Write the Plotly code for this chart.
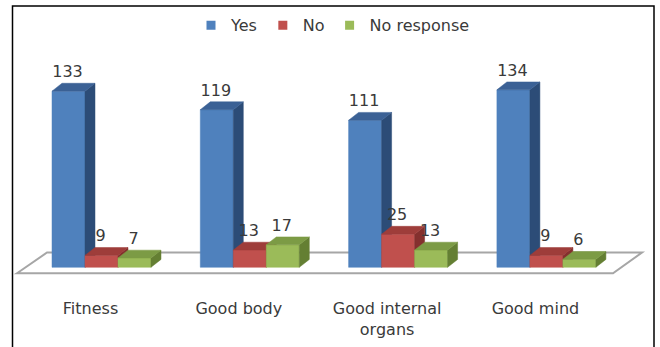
import plotly.graph_objects as go

# ---------------- data ----------------
categories = ["Fitness", "Good body", "Good internal<br>organs", "Good mind"]
series_names = ["Yes", "No", "No response"]
yes_vals = [133, 119, 111, 134]
no_vals = [9, 13, 25, 9]
noresp_vals = [7, 17, 13, 6]

# ---------------- styles ----------------
front_cols = ["#4F81BD", "#C0504D", "#9BBB59"]
top_cols = ["#3B6195", "#9E3D3A", "#7C9B45"]
side_cols = ["#2C4C77", "#84302E", "#647F33"]
FONT = "DejaVu Sans"
TXT = "#3A3A3A"

# pixel <-> data mapping (layout geometry)
PX0, PXU = 101.5, 148.3     # px of category 0 centre, px per category
PY0, PYU = 271.0, 1.346     # px of value 0, px per unit
L, R, T, B = 14, 652, 40, 290
W, H = 660, 347

bar_w = 33 / PXU
dx = 10 / PXU
dy = 8 / PYU

fig = go.Figure()

all_vals = [yes_vals, no_vals, noresp_vals]
lab_x, lab_y, lab_t = [], [], []
for s, vals in enumerate(all_vals):
    fx, fy, sx, sy, tx, ty = [], [], [], [], [], []
    for i, v in enumerate(vals):
        x0 = i - 1.5 * bar_w + s * bar_w
        x1 = x0 + bar_w
        fx += [x0, x1, x1, x0, x0, None]
        fy += [0, 0, v, v, 0, None]
        sx += [x1, x1 + dx, x1 + dx, x1, x1, None]
        sy += [0, dy, v + dy, v, 0, None]
        tx += [x0, x1, x1 + dx, x0 + dx, x0, None]
        ty += [v, v, v + dy, v + dy, v, None]
        lab_x.append(x0 + bar_w / 2 - 1 / PXU)
        lab_y.append(v + 18.3 / PYU)
        lab_t.append(str(v))
    for xs, ys, col in ((fx, fy, front_cols[s]), (sx, sy, side_cols[s]), (tx, ty, top_cols[s])):
        fig.add_trace(go.Scatter(x=xs, y=ys, mode="lines", fill="toself",
                                 fillcolor=col, line=dict(color=col, width=0.5),
                                 hoverinfo="skip", showlegend=False))

fig.add_trace(go.Scatter(x=lab_x, y=lab_y, text=lab_t, mode="text",
                         textposition="middle center",
                         textfont=dict(family=FONT, size=16, color=TXT),
                         hoverinfo="skip", showlegend=False))

# legend entries
for name, col in zip(series_names, front_cols):
    fig.add_trace(go.Scatter(x=[None], y=[None], mode="markers", name=name,
                             marker=dict(symbol="square", size=9, color=col)))

# floor (depth plane) in data coordinates
fl_front_y = (PY0 - 277) / PYU
fl_back_y = (PY0 - 256) / PYU
fl = [((17 - PX0) / PXU, fl_front_y), ((47 - PX0) / PXU, fl_back_y),
      ((642 - PX0) / PXU, fl_back_y), ((613 - PX0) / PXU, fl_front_y)]
path = "M " + " L ".join(f"{x},{y}" for x, y in fl) + " Z"
fig.add_shape(type="path", path=path, xref="x", yref="y", layer="below",
              fillcolor="white", line=dict(color="#A6A6A6", width=2))

# outer chart border
fig.add_shape(type="rect", xref="paper", yref="paper",
              x0=(12.5 - L) / (R - L), x1=(654 - L) / (R - L),
              y0=(B - 360) / (B - T), y1=(B - 5.5) / (B - T),
              line=dict(color="black", width=1.5), fillcolor="rgba(0,0,0,0)")

fig.update_layout(
    width=W, height=H,
    margin=dict(l=L, r=W - R, t=T, b=H - B),
    paper_bgcolor="white", plot_bgcolor="white",
    font=dict(family=FONT, size=16, color=TXT),
    legend=dict(orientation="h", x=0.5, xanchor="center",
                y=(B - 25) / (B - T), yanchor="middle",
                font=dict(family=FONT, size=16, color=TXT),
                itemwidth=30, tracegroupgap=0),
    xaxis=dict(range=[(L - PX0) / PXU, (R - PX0) / PXU],
               tickvals=[i - 11 / PXU for i in range(len(categories))],
               ticktext=categories, showgrid=False, zeroline=False,
               showline=False, ticks="outside", ticklen=8,
               tickcolor="rgba(0,0,0,0)",
               tickfont=dict(family=FONT, size=16, color=TXT)),
    yaxis=dict(range=[(PY0 - B) / PYU, (PY0 - T) / PYU], visible=False),
    showlegend=True,
)

fig.write_html("out.html")
